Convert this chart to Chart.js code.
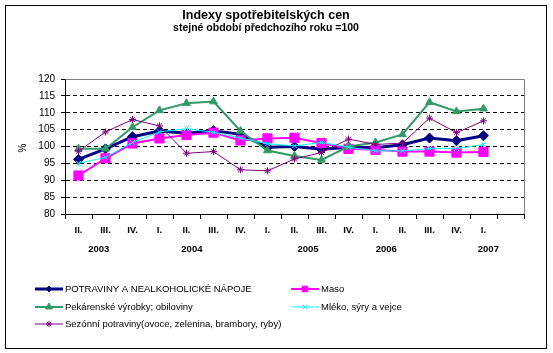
<!DOCTYPE html>
<html>
<head>
<meta charset="utf-8">
<script src="https://cdn.jsdelivr.net/npm/chart.js@4/dist/chart.umd.min.js"></script>
<style>
  body { margin: 0; background: #fff; }
  canvas { display: block; }
</style>
</head>
<body>
<canvas id="cpi-chart" width="553" height="353"></canvas>
<script>
// data
const quarters = ["II.", "III.", "IV.", "I.", "II.", "III.", "IV.", "I.", "II.", "III.", "IV.", "I.", "II.", "III.", "IV.", "I.", ""];
const years = ["2003", "2004", "2005", "2006", "2007"];
const yTicks = [80, 85, 90, 95, 100, 105, 110, 115, 120];

const potraviny = [96.2, 99.3, 102.9, 104.6, 103.9, 104.7, 103.6, 99.8, 100.0, 99.2, 99.8, 99.6, 100.5, 102.5, 101.7, 103.2];
const maso = [91.4, 96.5, 100.9, 102.4, 103.4, 104.1, 101.8, 102.4, 102.6, 101.0, 99.3, 99.0, 98.5, 98.5, 98.2, 98.4];
const pekarenske = [99.3, 99.3, 105.7, 110.7, 112.8, 113.3, 104.6, 98.8, 97.2, 96.0, 100.0, 101.2, 103.6, 113.1, 110.4, 111.2];
const mleko = [95.0, 96.8, 101.2, 104.3, 105.3, 104.2, 102.5, 100.8, 100.2, 101.2, 99.8, 98.7, 98.7, 99.4, 99.4, 100.6];
const sezonni = [98.6, 104.3, 108.0, 106.1, 98.0, 98.5, 93.1, 92.8, 96.3, 98.2, 102.2, 100.6, 101.0, 108.4, 104.1, 107.6];

const FONT = '"Liberation Sans", Arial, sans-serif';

// where the year captions sit, in category units
const yearSlots = [0.75, 4.2, 8.5, 11.4, 15.18];

const datasets = [
  { label: 'POTRAVINY A NEALKOHOLICKÉ NÁPOJE', data: potraviny, borderColor: '#000080', backgroundColor: '#000080',
    borderWidth: 3, pointStyle: 'rectRot', pointRadius: 5, pointBorderWidth: 1, order: 4, legendRadius: 3 },
  { label: 'Maso', data: maso, borderColor: '#FF00FF', backgroundColor: '#FF00FF',
    borderWidth: 2, pointStyle: 'rect', pointRadius: 6.5, pointBorderWidth: 1, order: 3, legendRadius: 4 },
  { label: 'Pekárenské výrobky; obiloviny', data: pekarenske, borderColor: '#339966', backgroundColor: '#339966',
    borderWidth: 2, pointStyle: 'triangle', pointRadius: 4.5, pointBorderWidth: 1, order: 2, legendRadius: 4 },
  { label: 'Mléko, sýry a vejce', data: mleko, borderColor: '#00FFFF', backgroundColor: '#00FFFF',
    borderWidth: 1, pointStyle: 'crossRot', pointRadius: 3.5, pointBorderWidth: 1, order: 1, legendRadius: 3 },
  { label: 'Sezónní potraviny(ovoce, zelenina, brambory, ryby)', data: sezonni, borderColor: '#800080', backgroundColor: '#800080',
    borderWidth: 1, pointStyle: 'star', pointRadius: 3.5, pointBorderWidth: 1, order: 0, legendRadius: 3 }
];

// legend grid: [dataset, column, row]
const legendCells = [[0, 0, 0], [1, 1, 0], [2, 0, 1], [3, 1, 1], [4, 0, 2]];
const legendCols = [35, 291];
const legendRows = [289, 307, 324];

// frame, titles, years and legend drawn on top
const decorPlugin = {
  id: 'decor',
  afterDraw(chart) {
    const ctx = chart.ctx;
    const area = chart.chartArea;
    const xScale = chart.scales.x;

    ctx.save();
    ctx.lineWidth = 1;
    ctx.strokeStyle = '#000';
    ctx.strokeRect(5.5, 5.5, 541, 343);

    // grey plot frame top + right
    ctx.strokeStyle = '#808080';
    ctx.beginPath();
    ctx.moveTo(Math.round(area.left) + 0.5, Math.round(area.top) + 0.5);
    ctx.lineTo(Math.round(area.right) + 0.5, Math.round(area.top) + 0.5);
    ctx.lineTo(Math.round(area.right) + 0.5, Math.round(area.bottom));
    ctx.stroke();

    ctx.fillStyle = '#000';
    ctx.textAlign = 'center';
    ctx.textBaseline = 'middle';
    ctx.font = 'bold 12.5px ' + FONT;
    ctx.fillText('Indexy spotřebitelských cen', 266, 16);
    ctx.font = 'bold 10.5px ' + FONT;
    ctx.fillText('stejné období předchozího roku =100', 266, 28);

    // % axis caption
    ctx.save();
    ctx.translate(23, 148);
    ctx.rotate(-Math.PI / 2);
    ctx.font = '10px ' + FONT;
    ctx.fillText('%', 0, 0);
    ctx.restore();

    // year row
    ctx.font = 'bold 9.5px ' + FONT;
    years.forEach((y, i) => {
      ctx.fillText(y, xScale.getPixelForValue(yearSlots[i]), 249);
    });

    // legend
    ctx.textAlign = 'left';
    ctx.font = '9.5px ' + FONT;
    legendCells.forEach(([d, c, r]) => {
      const ds = datasets[d];
      const x0 = legendCols[c];
      const y0 = legendRows[r];
      ctx.strokeStyle = ds.borderColor;
      ctx.fillStyle = ds.backgroundColor;
      ctx.lineWidth = ds.borderWidth;
      ctx.beginPath();
      ctx.moveTo(x0, y0);
      ctx.lineTo(x0 + 28, y0);
      ctx.stroke();
      if (Chart.helpers && Chart.helpers.drawPoint) {
        ctx.lineWidth = 1;
        Chart.helpers.drawPoint(ctx, { pointStyle: ds.pointStyle, radius: ds.legendRadius, rotation: 0, borderWidth: 1 }, x0 + 14, y0);
      }
      ctx.fillStyle = '#000';
      ctx.fillText(ds.label, x0 + 30, y0 + 0.5);
    });
    ctx.restore();
  }
};

const cpiChart = new Chart(document.getElementById('cpi-chart'), {
  type: 'line',
  data: {
    labels: quarters,
    datasets: datasets.map(ds => ({
      label: ds.label,
      data: ds.data,
      borderColor: ds.borderColor,
      backgroundColor: ds.backgroundColor,
      borderWidth: ds.borderWidth,
      pointStyle: ds.pointStyle,
      pointRadius: ds.pointRadius,
      pointBorderWidth: ds.pointBorderWidth,
      pointBackgroundColor: ds.backgroundColor,
      pointBorderColor: ds.borderColor,
      tension: 0,
      fill: false,
      order: ds.order
    }))
  },
  options: {
    responsive: false,
    animation: false,
    events: [],
    layout: {
      padding: { left: 5, right: 29, top: 79, bottom: 119 }
    },
    plugins: {
      legend: { display: false },
      title: { display: false },
      tooltip: { enabled: false }
    },
    scales: {
      x: {
        offset: true,
        afterFit(scale) { scale.height = 20; },
        grid: {
          offset: true,
          drawOnChartArea: false,
          drawTicks: true,
          tickLength: 5,
          color: '#000',
          tickColor: '#000'
        },
        border: { display: true, color: '#000', width: 1 },
        ticks: {
          autoSkip: false,
          maxRotation: 0,
          padding: 6,
          color: '#000',
          font: { family: FONT, size: 9.5, weight: 'bold' }
        }
      },
      y: {
        min: yTicks[0],
        max: yTicks[yTicks.length - 1],
        afterFit(scale) { scale.width = 60; },
        afterBuildTicks(scale) { scale.ticks = yTicks.map(v => ({ value: v })); },
        grid: {
          color: ctx => (ctx.tick && (ctx.tick.value === 80 || ctx.tick.value === 120)) ? 'rgba(0,0,0,0)' : '#000',
          tickColor: '#000',
          tickLength: 4,
          lineWidth: 1
        },
        border: { display: true, color: '#000', width: 1, dash: [4, 3] },
        ticks: {
          padding: 6,
          color: '#000',
          font: { family: FONT, size: 10 }
        }
      }
    }
  },
  plugins: [decorPlugin]
});
</script>
</body>
</html>
